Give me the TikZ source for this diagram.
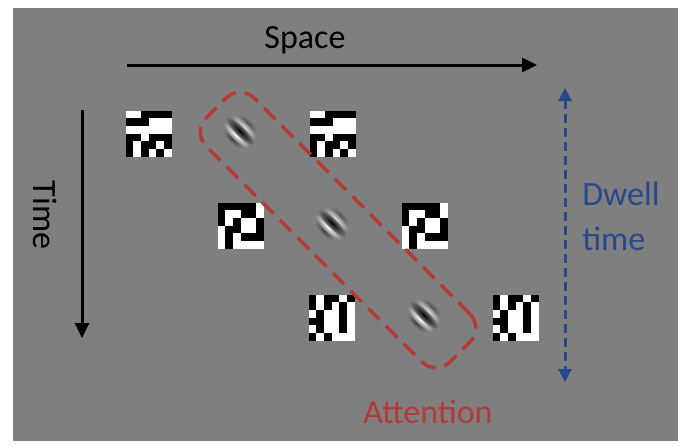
\documentclass[tikz,border=0pt]{standalone}
\usepackage{fontspec}
\setmainfont{Carlito}
\usepackage{tikz}
\usetikzlibrary{arrows.meta,calc}

\definecolor{slidegray}{RGB}{127,127,127}
\definecolor{attred}{RGB}{180,58,56}
\definecolor{dwellblue}{RGB}{40,72,140}

\newcommand{\bigfont}{\fontsize{34}{45}\selectfont}
\def\cellsz{7.667}

% black and white code patch, black cells given as column/row
\newcommand{\codepatch}[3]{%
  \node[codebox] (#1) at #2 {};
  \foreach \c/\r in {#3}
    \fill[black] ($(#1.north west)+(\c*\cellsz,\r*\cellsz)$) rectangle +(\cellsz,\cellsz);
}

% grating patch, stripes running down to the right
\newcommand{\gaborpatch}[2]{%
  \coordinate (#1) at #2;
  \begin{scope}[transform canvas={shift={(#1)}, rotate=-45}]
    \shade[inner color=black!35!slidegray, outer color=slidegray] (0pt,11pt) ellipse [x radius=12pt, y radius=4pt];
    \shade[inner color=black!50!slidegray, outer color=slidegray] (0pt,-11pt) ellipse [x radius=13pt, y radius=4pt];
    \shade[inner color=white!75!slidegray, outer color=slidegray] (0pt,5.5pt) ellipse [x radius=17pt, y radius=4.5pt];
    \shade[inner color=white, outer color=slidegray] (0pt,-5.5pt) ellipse [x radius=18pt, y radius=4.6pt];
    \shade[inner color=black, outer color=slidegray] (0pt,0pt) ellipse [x radius=20pt, y radius=4.8pt];
  \end{scope}}

\begin{document}
\begin{tikzpicture}[x=1pt, y=-1pt,
    codebox/.style={fill=white, minimum size=46pt, inner sep=0pt},
    bigarrow/.style={line width=3pt, -{Triangle[length=15pt,width=14pt]}},
    bigtext/.style={font=\bigfont, inner sep=0pt},
    attbox/.style={draw=attred, line width=3.5pt, dash pattern=on 16pt off 9pt,
      rounded corners=20pt, rotate=-45, minimum width=345pt, minimum height=68pt},
    dwell/.style={draw=dwellblue, line width=3pt, dash pattern=on 9pt off 5pt,
      {Triangle[length=13pt,width=13pt]}-{Triangle[length=13pt,width=13pt]}}]
	\useasboundingbox (0,0) rectangle (688,447);
	\fill[white] (0,0) rectangle (688,447);
	\fill[slidegray] (13,8) rectangle (678,441);

	% axes
	\coordinate (sp-start) at (127,65);
	\coordinate (sp-end) at (537,65);
	\coordinate (ti-start) at (82,110);
	\coordinate (ti-end) at (82,338);
	\node[bigtext] (space) at (305,40) {Space};
	\node[bigtext, rotate=-90] (time) at (45,215) {Time};
	\draw[bigarrow] (sp-start) -- (sp-end);
	\draw[bigarrow] (ti-start) -- (ti-end);

	% code patches
	\codepatch{A1}{(149,134)}{2/0,3/0,4/0,5/0, 0/1,1/1,2/1, 0/3,1/3,3/3,4/3,5/3, 0/4,2/4,3/4,5/4, 0/5,2/5,4/5}
	\codepatch{A2}{(333,134)}{2/0,3/0,4/0,5/0, 0/1,1/1,2/1, 0/3,1/3,3/3,4/3,5/3, 0/4,2/4,3/4,5/4, 0/5,2/5,4/5}
	\codepatch{B1}{(241,226)}{0/0,1/0,2/0,3/0,4/0, 0/1,3/1,4/1, 0/2,2/2,5/2, 1/3,2/3,5/3, 1/4,3/4,4/4,5/4, 1/5}
	\codepatch{B2}{(425,226)}{0/0,1/0,2/0,3/0,4/0, 0/1,3/1,4/1, 0/2,2/2,5/2, 1/3,2/3,5/3, 1/4,3/4,4/4,5/4, 1/5}
	\codepatch{C1}{(332,318)}{0/0,2/0,3/0,5/0, 0/1,2/1,4/1, 1/2,4/2, 0/3,1/3,4/3, 1/4,4/4, 0/5,2/5}
	\codepatch{C2}{(516,318)}{0/0,2/0,3/0,5/0, 0/1,2/1,4/1, 1/2,4/2, 0/3,1/3,4/3, 1/4,4/4, 0/5,2/5}

	% gratings
	\gaborpatch{G1}{(240,131)}
	\gaborpatch{G2}{(332,223)}
	\gaborpatch{G3}{(424,315)}

	% attention window
	\node[attbox] (att) at (338,230) {};
	\node[bigtext, text=attred] (atttxt) at (428,412) {Attention};

	% dwell time
	\coordinate (dw-top) at (565,88);
	\coordinate (dw-bot) at (565,382);
	\draw[dwell] (dw-top) -- (dw-bot);
	\node[bigtext, text=dwellblue, align=left] (dwelltxt) at (621,216) {Dwell\\time};
\end{tikzpicture}
\end{document}
